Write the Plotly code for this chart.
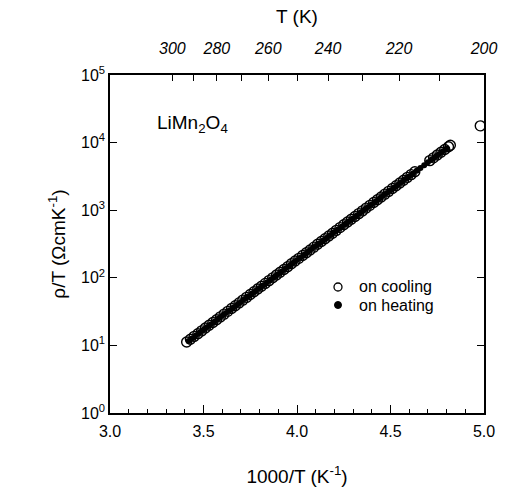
import plotly.graph_objects as go

# Resistivity / T of LiMn2O4 versus inverse temperature (1000/T in K^-1)
cool_x = [3.41, 3.43, 3.45, 3.47, 3.49, 3.51, 3.53, 3.55, 3.57, 3.59,
          3.61, 3.63, 3.65, 3.67, 3.69, 3.71, 3.73, 3.75, 3.77, 3.79,
          3.81, 3.83, 3.85, 3.87, 3.89, 3.91, 3.93, 3.95, 3.97, 3.99,
          4.01, 4.03, 4.05, 4.07, 4.09, 4.11, 4.13, 4.15, 4.17, 4.19,
          4.21, 4.23, 4.25, 4.27, 4.29, 4.31, 4.33, 4.35, 4.37, 4.39,
          4.41, 4.43, 4.45, 4.47, 4.49, 4.51, 4.53, 4.55, 4.57, 4.59,
          4.61, 4.63, 4.71, 4.73, 4.75, 4.77, 4.79, 4.81, 4.82, 4.98]
cool_y = [11.2, 12.3, 13.6, 14.9, 16.4, 18.1, 19.9, 21.8, 24.0, 26.4,
          29.0, 31.9, 35.1, 38.6, 42.5, 46.7, 51.3, 56.5, 62.1, 68.3,
          75.1, 82.6, 90.8, 99.9, 110, 121, 133, 146, 161, 177,
          194, 214, 235, 258, 284, 313, 344, 378, 416, 457,
          503, 553, 608, 668, 735, 808, 889, 978, 1075, 1180,
          1300, 1430, 1570, 1730, 1900, 2090, 2300, 2530, 2780, 3060,
          3360, 3700, 5410, 5950, 6540, 7200, 7910, 8700, 9130, 17700]

heat_x = [3.42, 3.44, 3.46, 3.48, 3.50, 3.52, 3.54, 3.56, 3.58, 3.60,
          3.62, 3.64, 3.66, 3.68, 3.70, 3.72, 3.74, 3.76, 3.78, 3.80,
          3.82, 3.84, 3.86, 3.88, 3.90, 3.92, 3.94, 3.96, 3.98, 4.00,
          4.02, 4.04, 4.06, 4.08, 4.10, 4.12, 4.14, 4.16, 4.18, 4.20,
          4.22, 4.24, 4.26, 4.28, 4.30, 4.32, 4.34, 4.36, 4.38, 4.40,
          4.42, 4.44, 4.46, 4.48, 4.50, 4.52, 4.54, 4.56, 4.58, 4.60,
          4.62, 4.64, 4.66, 4.68, 4.70, 4.72, 4.74, 4.76, 4.78, 4.80]
heat_y = [11.6, 12.8, 14.1, 15.5, 17.0, 18.7, 20.6, 22.6, 24.9, 27.4,
          30.1, 33.1, 36.4, 40.0, 44.0, 48.4, 53.2, 58.5, 64.4, 70.8,
          77.9, 85.6, 94.2, 104, 114, 125, 138, 151, 167, 183,
          201, 222, 244, 268, 295, 324, 356, 392, 431, 474,
          521, 573, 630, 693, 762, 838, 922, 1014, 1115, 1226,
          1348, 1483, 1631, 1793, 1972, 2168, 2385, 2623, 2884, 3172,
          3488, 3837, 4219, 4640, 5103, 5610, 6170, 6786, 7461, 8206]

# Temperature scale on the top axis (ticks every 10 K, labels every 20 K)
top_temps = [300, 290, 280, 270, 260, 250, 240, 230, 220, 210, 200]
top_labels = ["300", "", "280", "", "260", "", "240", "", "220", "", "200"]

y_ticks = [1, 10, 100, 1000, 10000, 100000]
y_labels = ["10<sup>0</sup>", "10<sup>1</sup>", "10<sup>2</sup>",
            "10<sup>3</sup>", "10<sup>4</sup>", "10<sup>5</sup>"]

legend_names = ["on cooling", "on heating"]

FONT = "Liberation Sans, Arial, sans-serif"

fig = go.Figure()
fig.add_trace(go.Scatter(
    x=cool_x, y=cool_y, mode="markers", name=legend_names[0],
    marker=dict(symbol="circle-open", size=10, color="black",
                line=dict(width=1.4, color="black")),
))
fig.add_trace(go.Scatter(
    x=heat_x, y=heat_y, mode="markers", name=legend_names[1],
    marker=dict(symbol="circle", size=6, color="black"),
))
# invisible trace that activates the top temperature axis
fig.add_trace(go.Scatter(x=[3, 5], y=[1, 1], xaxis="x2", mode="markers",
                         marker=dict(opacity=0), showlegend=False,
                         hoverinfo="skip"))

# compact key drawn inside the frame: symbol + label per series
key_x, key_text_x = 0.6096, 0.660
key_rows = [0.3728, 0.3195]
shapes = [
    dict(type="circle", xref="paper", yref="paper",
         xsizemode="pixel", ysizemode="pixel",
         xanchor=key_x, yanchor=key_rows[0],
         x0=-4, x1=4, y0=-4, y1=4,
         line=dict(color="black", width=1.3), fillcolor="white"),
    dict(type="circle", xref="paper", yref="paper",
         xsizemode="pixel", ysizemode="pixel",
         xanchor=key_x, yanchor=key_rows[1],
         x0=-3.5, x1=3.5, y0=-3.5, y1=3.5,
         line=dict(color="black", width=1), fillcolor="black"),
]
annotations = [
    dict(text=name, xref="paper", yref="paper", x=key_text_x, y=row,
         xanchor="left", yanchor="middle", showarrow=False,
         font=dict(size=16))
    for name, row in zip(legend_names, key_rows)
]
annotations.append(dict(
    text="LiMn<sub>2</sub>O<sub>4</sub>", xref="paper", yref="paper",
    x=0.12, y=0.855, xanchor="left", yanchor="middle", showarrow=False,
    font=dict(size=19),
))

fig.update_layout(
    width=512, height=487,
    margin=dict(l=110, r=28, t=75, b=74),
    paper_bgcolor="white", plot_bgcolor="white",
    font=dict(family=FONT, size=16, color="black"),
    showlegend=False,
    xaxis=dict(
        range=[3, 5], dtick=0.5, tickformat=".1f",
        ticks="inside", ticklen=8, tickwidth=1.2, tickcolor="black",
        minor=dict(dtick=0.1, ticks="inside", ticklen=4,
                   tickwidth=1, tickcolor="black"),
        showline=True, linecolor="black", linewidth=1.5, mirror=True,
        showgrid=False, zeroline=False, ticklabelstandoff=3,
        automargin=False,
        title=dict(text="1000/T (K<sup>-1</sup>)", standoff=32,
                   font=dict(size=19)),
        tickfont=dict(size=16),
    ),
    xaxis2=dict(
        overlaying="x", side="top", range=[3, 5],
        tickmode="array",
        tickvals=[1000.0 / t for t in top_temps],
        ticktext=["<i>%s</i>" % s if s else "" for s in top_labels],
        ticks="inside", ticklen=6, tickwidth=1.2, tickcolor="black",
        showline=False, showgrid=False, zeroline=False,
        ticklabelstandoff=17, automargin=False,
        title=dict(text="T (K)", standoff=11, font=dict(size=19)),
        tickfont=dict(size=16),
    ),
    yaxis=dict(
        type="log", range=[0, 5],
        tickmode="array", tickvals=y_ticks, ticktext=y_labels,
        ticks="inside", ticklen=7, tickwidth=1.2, tickcolor="black",
        showline=True, linecolor="black", linewidth=1.5, mirror="ticks",
        showgrid=False, zeroline=False, automargin=False,
        title=dict(text="\u03c1/T (\u03a9cmK<sup>-1</sup>)", standoff=10,
                   font=dict(size=19)),
        tickfont=dict(size=16),
    ),
    shapes=shapes,
    annotations=annotations,
)

fig.write_html("out.html")
